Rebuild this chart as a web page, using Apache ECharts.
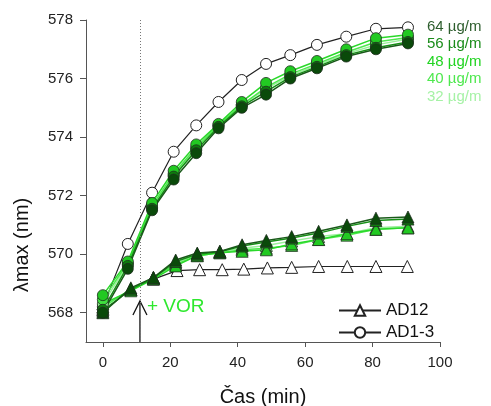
<!DOCTYPE html>
<html>
<head>
<meta charset="utf-8">
<script src="https://cdn.jsdelivr.net/npm/echarts@6/dist/echarts.min.js"></script>
<style>html,body{margin:0;padding:0;background:#fff}#c{width:491px;height:406px}</style>
</head>
<body>
<div id="c"></div>
<script>
// ---- data ----
const xTicks = [0, 20, 40, 60, 80, 100];
const yTicks = [568, 570, 572, 574, 576, 578];
const vorTime = 11;

// AD1-3 (circles)
const circleTimes = [0, 7.4, 14.6, 21, 27.7, 34.3, 41.2, 48.4, 55.6, 63.5, 72.2, 81, 90.5];
const ad13Control = [568.2, 570.35, 572.1, 573.5, 574.4, 575.2, 575.95, 576.5, 576.8, 577.15, 577.43, 577.7, 577.75];
const ad13_32 = [568.3, 569.65, 571.6, 572.7, 573.6, 574.4, 575.1, 575.65, 576.1, 576.45, 576.85, 577.15, 577.35];
const ad13_40 = [568.45, 569.7, 571.65, 572.75, 573.65, 574.4, 575.1, 575.7, 576.15, 576.5, 576.9, 577.25, 577.4];
const ad13_48 = [568.6, 569.75, 571.75, 572.85, 573.75, 574.45, 575.2, 575.85, 576.25, 576.6, 577.0, 577.38, 577.5];
const ad13_56 = [568.1, 569.6, 571.55, 572.65, 573.55, 574.35, 575.05, 575.55, 576.05, 576.4, 576.8, 577.05, 577.25];
const ad13_64 = [568.0, 569.5, 571.5, 572.55, 573.45, 574.3, 575.0, 575.45, 576.0, 576.35, 576.75, 577.0, 577.2];

// AD12 (triangles)
const triControlTimes = [0, 8.3, 15, 22, 28.7, 35.4, 41.8, 48.8, 56, 64, 72.5, 81, 90.3];
const triTimes = [0, 8.3, 15, 21.6, 28, 34.7, 41.3, 48.5, 56, 64, 72.4, 81, 90.5];
const ad12Control = [568.1, 568.8, 569.15, 569.44, 569.47, 569.47, 569.49, 569.53, 569.55, 569.58, 569.58, 569.58, 569.58];
const ad12_32 = [568.15, 568.8, 569.2, 569.7, 570.0, 570.1, 570.2, 570.3, 570.45, 570.6, 570.7, 570.9, 570.95];
const ad12_40 = [568.2, 568.8, 569.2, 569.65, 569.95, 570.05, 570.15, 570.2, 570.3, 570.5, 570.65, 570.85, 570.9];
const ad12_48 = [568.3, 568.75, 569.15, 569.6, 569.95, 570.05, 570.1, 570.15, 570.35, 570.5, 570.7, 570.85, 570.9];
const ad12_56 = [568.05, 568.8, 569.18, 569.75, 570.0, 570.08, 570.28, 570.42, 570.55, 570.72, 570.95, 571.15, 571.2];
const ad12_64 = [568.0, 568.85, 569.2, 569.8, 570.04, 570.09, 570.32, 570.47, 570.6, 570.78, 571.0, 571.23, 571.27];

const concLabels = ['64 µg/m', '56 µg/m', '48 µg/m', '40 µg/m', '32 µg/m'];

// ---- styling ----
const FONT = '"Liberation Sans", Arial, sans-serif';
const concColors = { 32: '#8eec8e', 40: '#3fe03f', 48: '#22c922', 56: '#0d7d0d', 64: '#0a4a0a' };
const concLine = { 32: '#9af09a', 40: '#4fe84f', 48: '#2ad82a', 56: '#159015', 64: '#1a5a1a' };
const labelColors = ['#2e5e2e', '#1a8c1a', '#22d422', '#4ee84e', '#a6f2a6'];

function pts(t, v) { return t.map((x, i) => [x, v[i]]); }

function whiteSeries(name, t, v, symbol, size) {
  return {
    name, type: 'line', data: pts(t, v), symbol, symbolSize: size,
    lineStyle: { color: '#222', width: 1.2 },
    itemStyle: { color: '#fff', borderColor: '#222', borderWidth: 1 },
    emphasis: { disabled: true }, animation: false, z: 2
  };
}
function greenSeries(c, t, v, symbol, size) {
  return {
    name: 'g' + c + symbol, type: 'line', data: pts(t, v), symbol, symbolSize: size,
    lineStyle: { color: concLine[c], width: 1.5 },
    itemStyle: { color: concColors[c], borderColor: '#1e2e1e', borderWidth: 0.8 },
    emphasis: { disabled: true }, animation: false, z: 3
  };
}

const series = [
  Object.assign(whiteSeries('AD1-3', circleTimes, ad13Control, 'circle', 11), {
    markLine: {
      silent: true, symbol: ['none', 'none'], label: { show: false },
      lineStyle: { color: '#777', type: [1, 2], width: 1 },
      data: [{ xAxis: vorTime }], animation: false
    }
  }),
  whiteSeries('AD12', triControlTimes, ad12Control, 'triangle', 12),
  greenSeries(32, triTimes, ad12_32, 'triangle', 12),
  greenSeries(40, triTimes, ad12_40, 'triangle', 12),
  greenSeries(48, triTimes, ad12_48, 'triangle', 12),
  greenSeries(56, triTimes, ad12_56, 'triangle', 12),
  greenSeries(64, triTimes, ad12_64, 'triangle', 12),
  greenSeries(32, circleTimes, ad13_32, 'circle', 11),
  greenSeries(40, circleTimes, ad13_40, 'circle', 11),
  greenSeries(48, circleTimes, ad13_48, 'circle', 11),
  greenSeries(56, circleTimes, ad13_56, 'circle', 11),
  greenSeries(64, circleTimes, ad13_64, 'circle', 11)
];

const chart = echarts.init(document.getElementById('c'), null, { renderer: 'canvas' });
const axisCol = '#555';
chart.setOption({
  animation: false,
  backgroundColor: '#fff',
  grid: { left: 86, right: 51, top: 20, bottom: 64, containLabel: false, outerBoundsMode: 'none' },
  xAxis: {
    type: 'value', min: -5, max: 100,
    name: 'Čas (min)', nameLocation: 'middle', nameGap: 45,
    nameTextStyle: { fontFamily: FONT, fontSize: 20, color: '#111' },
    axisLine: { show: true, onZero: false, lineStyle: { color: axisCol, width: 1 } },
    axisTick: { show: true, length: 5, lineStyle: { color: axisCol }, customValues: xTicks },
    axisLabel: { fontFamily: FONT, fontSize: 15, color: '#222', margin: 13, customValues: xTicks },
    splitLine: { show: false }
  },
  yAxis: {
    type: 'value', min: 567, max: 578,
    axisLine: { show: true, onZero: false, lineStyle: { color: axisCol, width: 1 } },
    axisTick: { show: true, length: 6, lineStyle: { color: axisCol }, customValues: yTicks },
    axisLabel: { fontFamily: FONT, fontSize: 15, color: '#222', margin: 13, customValues: yTicks },
    splitLine: { show: false }
  },
  legend: {
    data: ['AD12', 'AD1-3'], orient: 'vertical', left: 333, top: 297,
    itemWidth: 42, itemHeight: 13, itemGap: 5,
    textStyle: { fontFamily: FONT, fontSize: 17, color: '#111' },
    selectedMode: false
  },
  series
});

// text labels and arrow
const arrowX = chart.convertToPixel({ xAxisIndex: 0 }, vorTime);
const bottomY = chart.convertToPixel({ yAxisIndex: 0 }, 567);
const graphics = concLabels.map((t, i) => ({
  type: 'text', left: 427, top: 19 + i * 17.5,
  style: { text: t, fontFamily: FONT, fontSize: 15, fill: labelColors[i] }
}));
graphics.push({
  type: 'text', x: 22, y: 245, rotation: Math.PI / 2,
  style: { text: 'λmax (nm)', fontFamily: FONT, fontSize: 20, fill: '#111', align: 'center', verticalAlign: 'middle' }
});
graphics.push({
  type: 'text', left: arrowX + 7, top: 297,
  style: { text: '+ VOR', fontFamily: FONT, fontSize: 19, fill: '#2ee82e' }
});
graphics.push({
  type: 'line', shape: { x1: arrowX, y1: bottomY, x2: arrowX, y2: bottomY - 41 },
  style: { stroke: '#111', lineWidth: 1.3 }
});
graphics.push({
  type: 'polyline', shape: { points: [[arrowX - 7, bottomY - 27], [arrowX, bottomY - 41], [arrowX + 7, bottomY - 27]] },
  style: { stroke: '#111', lineWidth: 1.3, fill: 'none' }
});
chart.setOption({ graphic: graphics });
</script>
</body>
</html>
